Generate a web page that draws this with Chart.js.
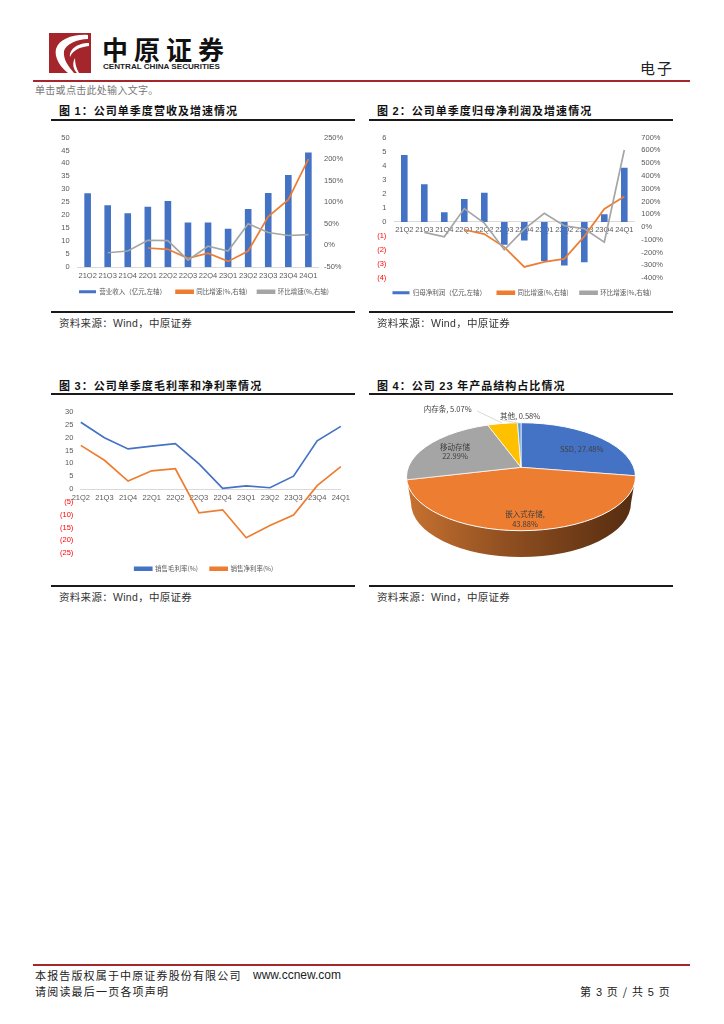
<!DOCTYPE html>
<html>
<head>
<meta charset="utf-8">
<script src="https://cdn.jsdelivr.net/npm/chart.js@4/dist/chart.umd.min.js"></script>
<style>
html, body { margin: 0; padding: 0; background: #fff; }
#page { position: relative; width: 724px; height: 1024px; overflow: hidden; font-family: "Noto Sans CJK SC", "Liberation Sans", sans-serif; color: #222; }
#page > * { position: absolute; }
.title { font-size: 11px; line-height: 14px; font-weight: 700; letter-spacing: 1.03px; color: #111; white-space: nowrap; }
.title b { font-family: "Liberation Sans"; }
.rule { height: 2px; background: #1a1a1a; width: 304px; }
.source { font-size: 10.5px; line-height: 14px; letter-spacing: 0.3px; white-space: nowrap; color: #333; }
.source span { font-family: "Liberation Sans"; }
.red { background: #a5262c; height: 2px; left: 33px; width: 657px; }
.box { width: 320px; }
</style>
</head>
<body>
<div id="page">
  <svg style="left:49px;top:33px" width="42" height="40" viewBox="0 0 42 40">
    <rect width="42" height="40" fill="#a4262c"/>
    <path d="M39 2 C24 1 10 6 7 16 C5 24 11 34 19 40 L25 40 C19 33 14 26 15 18 C17 11 28 6 39 6 Z" fill="#fff"/>
    <path d="M40 10 C29 10 20 16 21 24 C24 17 31 14 40 13 Z" fill="#fff"/>
    <path d="M26 25 C23 30 24 36 28 40 L30 40 C27 35 26 30 26 25 Z" fill="#fff"/>
  </svg>
  <div style="left:102px;top:31px;font-size:26px;line-height:36px;font-weight:700;letter-spacing:6px;color:#111;white-space:nowrap">中原证券</div>
  <div style="left:103px;top:61px;font-family:'Liberation Sans';font-size:8.1px;line-height:11px;font-weight:700;color:#222;white-space:nowrap">CENTRAL CHINA SECURITIES</div>
  <div style="left:640px;top:58px;font-size:15px;line-height:20px;letter-spacing:2px;color:#222">电子</div>
  <div class="red" style="top:80px"></div>
  <div style="left:35px;top:83px;font-size:10px;line-height:14px;letter-spacing:0.3px;color:#777;white-space:nowrap">单击或点击此处输入文字。</div>

  <div class="title" style="left:59px;top:103px">图 <b>1</b>：公司单季度营收及增速情况</div>
  <div class="rule" style="left:51px;top:119px"></div>
  <div class="box" style="left:44px;top:125px;height:180px"><canvas id="chart1"></canvas></div>
  <div class="rule" style="left:51px;top:311px"></div>
  <div class="source" style="left:59px;top:316px">资料来源：<span>Wind</span>，中原证券</div>

  <div class="title" style="left:377px;top:103px">图 <b>2</b>：公司单季度归母净利润及增速情况</div>
  <div class="rule" style="left:369px;top:119px"></div>
  <div class="box" style="left:362px;top:125px;height:181px"><canvas id="chart2"></canvas></div>
  <div class="rule" style="left:369px;top:311px"></div>
  <div class="source" style="left:377px;top:316px">资料来源：<span>Wind</span>，中原证券</div>

  <div class="title" style="left:59px;top:378px">图 <b>3</b>：公司单季度毛利率和净利率情况</div>
  <div class="rule" style="left:51px;top:393px"></div>
  <div class="box" style="left:44px;top:400px;height:182px"><canvas id="chart3"></canvas></div>
  <div class="rule" style="left:51px;top:585px"></div>
  <div class="source" style="left:59px;top:590px">资料来源：<span>Wind</span>，中原证券</div>

  <div class="title" style="left:377px;top:378px">图 <b>4</b>：公司 <b>23</b> 年产品结构占比情况</div>
  <div class="rule" style="left:369px;top:393px"></div>
  <div class="box" style="left:365px;top:396px;height:186px"><canvas id="chart4"></canvas></div>
  <div class="rule" style="left:369px;top:585px"></div>
  <div class="source" style="left:377px;top:590px">资料来源：<span>Wind</span>，中原证券</div>

  <div class="red" style="top:964px"></div>
  <div style="left:35px;top:968px;font-size:11px;line-height:15px;letter-spacing:1.15px;white-space:nowrap">本报告版权属于中原证券股份有限公司</div>
  <div style="left:253px;top:968px;font-family:'Liberation Sans';font-size:12px;line-height:15px;white-space:nowrap">www.ccnew.com</div>
  <div style="left:35px;top:984px;font-size:11px;line-height:15px;letter-spacing:1.2px;white-space:nowrap">请阅读最后一页各项声明</div>
  <div style="left:580px;top:984px;font-size:11px;line-height:15px;letter-spacing:1.2px;white-space:nowrap">第 <span style="font-family:'Liberation Sans'">3</span> 页 / 共 <span style="font-family:'Liberation Sans'">5</span> 页</div>
</div>

<script>
const quarters = ['21Q2', '21Q3', '21Q4', '22Q1', '22Q2', '22Q3', '22Q4', '23Q1', '23Q2', '23Q3', '23Q4', '24Q1'];

const revenue = [28.5, 23.8, 20.8, 23.3, 25.5, 17.2, 17.2, 14.8, 22.4, 28.6, 35.5, 44.2];
const revenueYoy = [null, null, null, -6, -9, -30, -18, -37, -13, 67, 106, 200];
const revenueQoq = [null, -17, -13, 12, 11, -34, -2, -13, 50, 30, 23, 25];

const profit = [4.75, 2.67, 0.69, 1.63, 2.08, -1.63, -1.32, -2.77, -3.1, -2.86, 0.54, 3.85];
const profitYoy = [null, null, null, -21, -55, -157, -312, -272, -249, -73, 141, 238];
const profitQoq = [null, -42, -76, 144, 31, -178, -16, 107, 10, -13, -118, 602];

const grossMargin = [26, 20, 15.6, 16.7, 17.7, 9.8, 0.3, 1.2, 0.5, 5, 18.8, 24.4];
const netMargin = [17, 11.2, 3.1, 7.1, 7.9, -9.3, -8.1, -19, -14.2, -10.1, 1.3, 8.7];

const productNames = ['SSD', '嵌入式存储', '移动存储', '内存条', '其他'];
const productShares = [27.48, 43.88, 22.99, 5.07, 0.58];

const BLUE = '#4472C4', ORANGE = '#ED7D31', GRAY = '#A5A5A5', YELLOW = '#FFC000', LIGHT = '#5B9BD5';
const TICK = '#595959';
const tickFont = { family: 'Liberation Sans', size: 7.5 };
const legendFont = { family: 'Noto Sans CJK SC', size: 6.5 };

Chart.defaults.animation = false;
Chart.defaults.responsive = true;
Chart.defaults.maintainAspectRatio = false;
Chart.defaults.plugins.tooltip.enabled = false;

function legendOptions(padding) {
    return {
        position: 'bottom',
        labels: {
            boxWidth: 17, boxHeight: 3, padding: padding, color: TICK, font: legendFont,
            sort: (a, b) => a.datasetIndex - b.datasetIndex
        }
    };
}

function lineSet(label, data, color, axis, order) {
    return {
        type: 'line', label: label, data: data, yAxisID: axis, order: order,
        borderColor: color, backgroundColor: color,
        borderWidth: 1.7, pointRadius: 0, tension: 0, spanGaps: false
    };
}

function barSet(label, data) {
    return {
        type: 'bar', label: label, data: data, yAxisID: 'y', order: 2,
        backgroundColor: BLUE, barPercentage: 0.33, categoryPercentage: 1
    };
}

function xAxis(height, position) {
    const axis = {
        grid: { drawOnChartArea: false, drawTicks: false, color: '#D9D9D9' },
        border: { color: '#D9D9D9' },
        ticks: { color: TICK, font: tickFont, padding: 4, maxRotation: 0, autoSkip: false },
        afterFit: s => { s.height = height; }
    };
    if (position) axis.position = position;
    return axis;
}

function valueAxis(side, width, padding, min, max, step, format, color) {
    return {
        position: side, min: min, max: max,
        grid: { display: false, drawTicks: false },
        border: { display: false },
        ticks: {
            stepSize: step, padding: padding, font: tickFont,
            color: color || TICK,
            callback: format
        },
        afterFit: s => { s.width = width; }
    };
}

const percent = v => v + '%';
const bracketed = v => v < 0 ? '(' + Math.abs(v) + ')' : String(v);
const redNegative = ctx => ctx.tick.value < 0 ? '#FF0000' : TICK;

new Chart(document.getElementById('chart1'), {
    data: {
        labels: quarters,
        datasets: [
            barSet('营业收入（亿元,左轴）', revenue),
            lineSet('同比增速(%,右轴)', revenueYoy, ORANGE, 'y1', 1),
            lineSet('环比增速(%,右轴)', revenueQoq, GRAY, 'y1', 0)
        ]
    },
    options: {
        layout: { padding: { top: 11 } },
        plugins: { legend: legendOptions(10) },
        scales: {
            x: xAxis(11.5),
            y: valueAxis('left', 33.6, 8, 0, 50, 5, v => v),
            y1: valueAxis('right', 45.6, 5.6, -50, 250, 50, percent)
        }
    }
});

new Chart(document.getElementById('chart2'), {
    data: {
        labels: quarters,
        datasets: [
            barSet('归母净利润（亿元,左轴）', profit),
            lineSet('同比增速(%,右轴)', profitYoy, ORANGE, 'y1', 1),
            lineSet('环比增速(%,右轴)', profitQoq, GRAY, 'y1', 0)
        ]
    },
    options: {
        layout: { padding: { top: 11 } },
        plugins: { legend: legendOptions(11.3) },
        scales: {
            x: xAxis(17, { y: 0 }),
            y: valueAxis('left', 32.3, 8, -4, 6, 1, bracketed, redNegative),
            y1: valueAxis('right', 47.7, 7, -400, 700, 100, percent)
        }
    }
});

new Chart(document.getElementById('chart3'), {
    data: {
        labels: quarters,
        datasets: [
            lineSet('销售毛利率(%)', grossMargin, BLUE, 'y', 1),
            lineSet('销售净利率(%)', netMargin, ORANGE, 'y', 0)
        ]
    },
    options: {
        layout: { padding: { top: 10.7 } },
        plugins: { legend: legendOptions(12.3) },
        scales: {
            x: xAxis(17, { y: 0 }),
            y: valueAxis('left', 36.8, 7.5, -25, 30, 5, bracketed, redNegative),
            // empty axis, only keeps the plot off the right edge so the legend stays centred
            y1: valueAxis('right', 23.2, 0, -25, 30, 5, () => '')
        }
    }
});

// top face is a squashed circle around the apex, clipped to the rim ellipse
const PIE = { apexX: 156, apexY: 71.3, rx: 114.5, ry: 54, rimY: 80.7, squash: 0.47, baseRx: 110, baseY: 107 };

function rimPath(ctx) {
    ctx.beginPath();
    ctx.ellipse(PIE.apexX, PIE.rimY, PIE.rx, PIE.ry, 0, 0, Math.PI * 2);
}

const pieLabels = [
    { lines: ['SSD, 27.48%'], x: 216.7, y: 52.7 },
    { lines: ['嵌入式存储,', '43.88%'], x: 160, y: 118.3 },
    { lines: ['移动存储', '22.99%'], x: 90, y: 51 },
    { lines: ['内存条, 5.07%'], x: 82.7, y: 13.3, leader: [[112, 15], [137, 27]] },
    { lines: ['其他, 0.58%'], x: 155, y: 19.7, leader: [[137, 24], [153, 27]] }
];

const pie3d = {
    id: 'pie3d',
    beforeDatasetsDraw(chart) {
        const ctx = chart.ctx;
        const arc = chart.getDatasetMeta(0).data[0];
        const side = ctx.createLinearGradient(PIE.apexX - PIE.rx, 0, PIE.apexX + PIE.rx, 0);
        side.addColorStop(0, '#C77230');
        side.addColorStop(0.45, '#8E4E20');
        side.addColorStop(1, '#552C10');
        ctx.save();
        ctx.fillStyle = side;
        ctx.beginPath();
        ctx.moveTo(PIE.apexX - PIE.rx, PIE.rimY);
        ctx.lineTo(PIE.apexX - PIE.baseRx, PIE.baseY);
        ctx.ellipse(PIE.apexX, PIE.baseY, PIE.baseRx, PIE.ry, 0, Math.PI, 0, true);
        ctx.lineTo(PIE.apexX + PIE.rx, PIE.rimY);
        ctx.closePath();
        ctx.fill();
        ctx.restore();

        ctx.save();
        rimPath(ctx);
        ctx.clip();
        ctx.translate(PIE.apexX, PIE.apexY);
        ctx.scale(1, PIE.squash);
        ctx.translate(-arc.x, -arc.y);
    },
    afterDatasetsDraw(chart) {
        const ctx = chart.ctx;
        ctx.restore();
        ctx.save();
        ctx.strokeStyle = '#fff';
        ctx.lineWidth = 1;
        rimPath(ctx);
        ctx.stroke();
        ctx.restore();

        ctx.save();
        ctx.font = '7.5px "Noto Sans CJK SC", "Liberation Sans"';
        ctx.fillStyle = '#404040';
        ctx.textAlign = 'center';
        ctx.textBaseline = 'middle';
        pieLabels.forEach(l => {
            l.lines.forEach((t, i) => ctx.fillText(t, l.x, l.y + i * 9.6));
            if (l.leader) {
                ctx.strokeStyle = '#BFBFBF';
                ctx.lineWidth = 0.6;
                ctx.beginPath();
                ctx.moveTo(l.leader[0][0], l.leader[0][1]);
                ctx.lineTo(l.leader[1][0], l.leader[1][1]);
                ctx.stroke();
            }
        });
        ctx.restore();
    }
};

new Chart(document.getElementById('chart4'), {
    type: 'pie',
    data: {
        labels: productNames,
        datasets: [{
            data: productShares,
            backgroundColor: [BLUE, ORANGE, GRAY, YELLOW, LIGHT],
            borderColor: '#fff',
            borderWidth: 1,
            clip: false
        }]
    },
    options: {
        radius: 145,
        plugins: { legend: { display: false } }
    },
    plugins: [pie3d]
});
</script>
</body>
</html>
